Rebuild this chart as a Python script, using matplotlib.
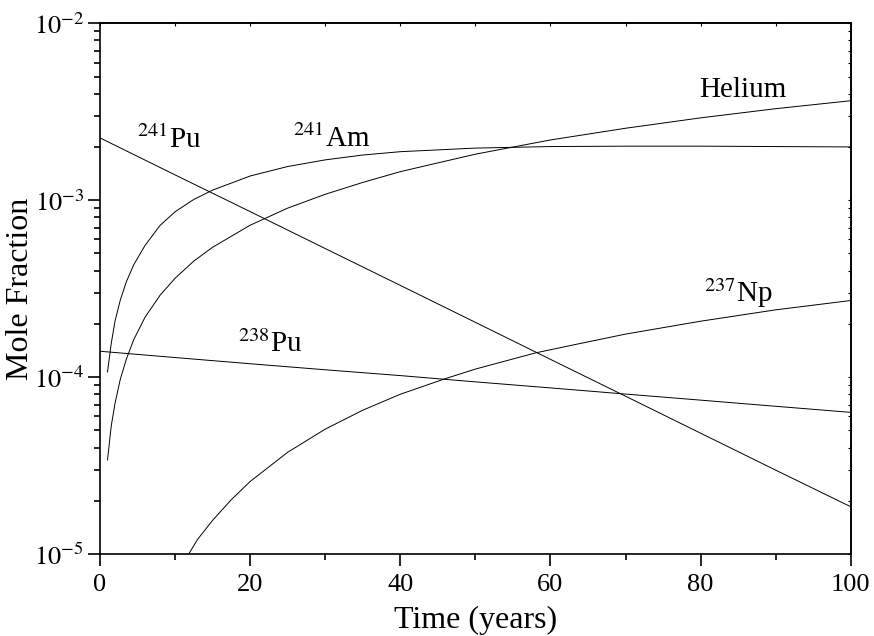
import numpy as np
import matplotlib
matplotlib.use('Agg')
from matplotlib import pyplot as plt
from matplotlib.ticker import MultipleLocator, LogLocator, NullFormatter, FixedLocator

plt.rcParams['font.family'] = ['Liberation Serif', 'DejaVu Serif']
plt.rcParams['mathtext.fontset'] = 'stix'

# 数值由圖上讀出
t_pu = [0, 10, 20, 30, 40, 50, 60, 70, 80, 90, 100]
pu241 = [2.25e-3, 1.39e-3, 8.62e-4, 5.33e-4, 3.30e-4, 2.04e-4, 1.26e-4, 7.80e-5, 4.82e-5, 2.98e-5, 1.85e-5]
pu238 = [1.40e-4, 1.29e-4, 1.19e-4, 1.10e-4, 1.02e-4, 9.40e-5, 8.69e-5, 8.02e-5, 7.41e-5, 6.84e-5, 6.32e-5]

t_grow = [1, 1.5, 2, 2.7, 3.5, 4.5, 6, 8, 10, 12.5, 15, 20, 25, 30, 35, 40, 50, 60, 70, 80, 90, 100]
am241 = [1.07e-4, 1.55e-4, 2.07e-4, 2.72e-4, 3.45e-4, 4.32e-4, 5.55e-4, 7.20e-4, 8.60e-4, 1.01e-3, 1.14e-3,
         1.37e-3, 1.55e-3, 1.69e-3, 1.80e-3, 1.88e-3, 1.97e-3, 2.01e-3, 2.02e-3, 2.02e-3, 2.01e-3, 2.00e-3]
helium = [3.40e-5, 5.30e-5, 7.10e-5, 9.70e-5, 1.26e-4, 1.63e-4, 2.18e-4, 2.90e-4, 3.62e-4, 4.53e-4, 5.42e-4,
          7.22e-4, 9.02e-4, 1.08e-3, 1.26e-3, 1.45e-3, 1.82e-3, 2.19e-3, 2.55e-3, 2.92e-3, 3.29e-3, 3.65e-3]

t_np = [11, 12, 13, 15, 17.5, 20, 25, 30, 35, 40, 46, 50, 58, 64, 70, 80, 90, 100]
np237 = [8.8e-6, 1.03e-5, 1.21e-5, 1.55e-5, 2.03e-5, 2.57e-5, 3.76e-5, 5.08e-5, 6.50e-5, 8.00e-5, 9.80e-5,
         1.11e-4, 1.37e-4, 1.55e-4, 1.75e-4, 2.07e-4, 2.40e-4, 2.71e-4]

labels = [r'$^{241}$Pu', r'$^{241}$Am', 'Helium', r'$^{237}$Np', r'$^{238}$Pu']
label_t = [4.9, 25.7, 79.8, 80.5, 18.4]
label_y = [1.97e-3, 2.0e-3, 3.82e-3, 2.67e-4, 1.39e-4]

fig = plt.figure(figsize=(8.74, 6.36), dpi=100)
ax = fig.add_axes([0.1144, 0.1289, 0.859, 0.8345])

for xx, yy in [(t_pu, pu241), (t_pu, pu238), (t_grow, am241), (t_grow, helium), (t_np, np237)]:
    ax.plot(xx, yy, color='black', lw=0.7)

for s, tx, ty in zip(labels, label_t, label_y):
    ax.text(tx, ty, s, fontsize=21, ha='left', va='baseline')

ax.set_yscale('log')
ax.set_xlim(0, 100)
ax.set_ylim(1e-5, 1e-2)

ax.xaxis.set_major_locator(MultipleLocator(20))
ax.xaxis.set_minor_locator(MultipleLocator(10))
ax.yaxis.set_major_locator(FixedLocator([1e-5, 1e-4, 1e-3, 1e-2]))
ax.yaxis.set_minor_locator(LogLocator(base=10, subs=np.arange(2, 10)))
ax.yaxis.set_minor_formatter(NullFormatter())
ax.set_yticklabels([r'$10^{-5}$', r'$10^{-4}$', r'$10^{-3}$', r'$10^{-2}$'])

ax.tick_params(which='major', direction='out', length=8.5, width=1.2, labelsize=19, top=False, right=False)
ax.tick_params(which='minor', direction='out', length=4.5, width=1.2, top=False, right=False)
ax.tick_params(axis='x', which='major', pad=6)
ax.tick_params(axis='y', which='major', pad=3)

# 上方與右方的小刻度
secx = ax.secondary_xaxis('top')
secx.xaxis.set_major_locator(MultipleLocator(10))
secx.tick_params(direction='in', length=2, width=0.8, labeltop=False)
secy = ax.secondary_yaxis('right')
secy.set_yscale('log')
secy.yaxis.set_major_locator(LogLocator(base=10, subs=np.arange(1, 10)))
secy.yaxis.set_minor_locator(LogLocator(base=10, subs=np.arange(1, 10)))
secy.tick_params(which='both', direction='in', length=2, width=0.8, labelright=False)

for sp in ax.spines.values():
    sp.set_linewidth(1.2)
secx.spines['top'].set_linewidth(1.2)
secy.spines['right'].set_linewidth(1.2)

ax.set_xlabel('Time (years)', fontsize=23, labelpad=7)
ax.set_ylabel('Mole Fraction', fontsize=23)
ax.yaxis.set_label_coords(-0.086, 0.5)

fig.savefig('out.png', dpi=100)
